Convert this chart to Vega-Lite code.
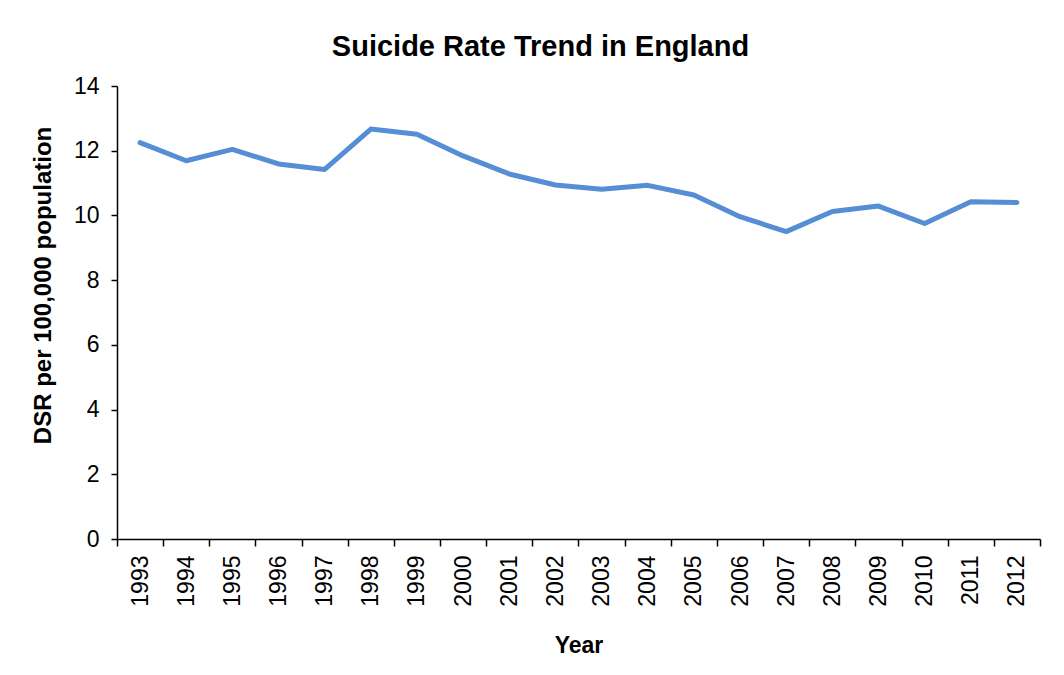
{
  "$schema": "https://vega.github.io/schema/vega-lite/v6.json",
  "autosize": "none",
  "width": 923,
  "height": 453,
  "padding": {"left": 117, "top": 86, "right": 24, "bottom": 136},
  "background": "white",
  "title": {
    "text": "Suicide Rate Trend in England",
    "font": "Liberation Sans",
    "fontSize": 29,
    "fontWeight": "bold",
    "color": "#000000",
    "anchor": "middle",
    "dx": -38,
    "offset": 13
  },
  "data": {
    "values": [
      {"year": "1993", "dsr": 12.25},
      {"year": "1994", "dsr": 11.69},
      {"year": "1995", "dsr": 12.04},
      {"year": "1996", "dsr": 11.59},
      {"year": "1997", "dsr": 11.42},
      {"year": "1998", "dsr": 12.67},
      {"year": "1999", "dsr": 12.51},
      {"year": "2000", "dsr": 11.84},
      {"year": "2001", "dsr": 11.28},
      {"year": "2002", "dsr": 10.94},
      {"year": "2003", "dsr": 10.81},
      {"year": "2004", "dsr": 10.93},
      {"year": "2005", "dsr": 10.63},
      {"year": "2006", "dsr": 9.96},
      {"year": "2007", "dsr": 9.5},
      {"year": "2008", "dsr": 10.12},
      {"year": "2009", "dsr": 10.29},
      {"year": "2010", "dsr": 9.75},
      {"year": "2011", "dsr": 10.42},
      {"year": "2012", "dsr": 10.4}
    ]
  },
  "mark": {
    "type": "line",
    "color": "#558ED5",
    "strokeWidth": 5,
    "strokeCap": "round",
    "strokeJoin": "round"
  },
  "encoding": {
    "x": {
      "field": "year",
      "type": "ordinal",
      "bandPosition": 0.5,
      "scale": {"type": "band", "paddingInner": 0, "paddingOuter": 0},
      "axis": {
        "title": "Year",
        "titleFontSize": 23,
        "labelAngle": -90,
        "labelAlign": "right",
        "labelBaseline": "middle",
        "tickBand": "extent",
        "tickSize": 7,
        "labelPadding": 9,
        "titleBaseline": "alphabetic",
        "titleY": 113
      }
    },
    "y": {
      "field": "dsr",
      "type": "quantitative",
      "scale": {"domain": [0, 14], "nice": false},
      "axis": {
        "values": [0, 2, 4, 6, 8, 10, 12, 14],
        "title": "DSR per 100,000 population",
        "titleFontSize": 24,
        "grid": false,
        "tickSize": 6,
        "labelPadding": 12,
        "titleAngle": -90,
        "titleAlign": "center",
        "titleBaseline": "bottom",
        "titleX": -62,
        "titleY": 199
      }
    }
  },
  "config": {
    "view": {"stroke": null},
    "axis": {
      "domainColor": "#000000",
      "domainWidth": 1.5,
      "tickColor": "#000000",
      "tickWidth": 1.5,
      "labelFont": "Liberation Sans",
      "labelFontSize": 23,
      "labelColor": "#000000",
      "titleFont": "Liberation Sans",
      "titleFontWeight": "bold",
      "titleColor": "#000000",
      "labelOverlap": false
    }
  }
}
